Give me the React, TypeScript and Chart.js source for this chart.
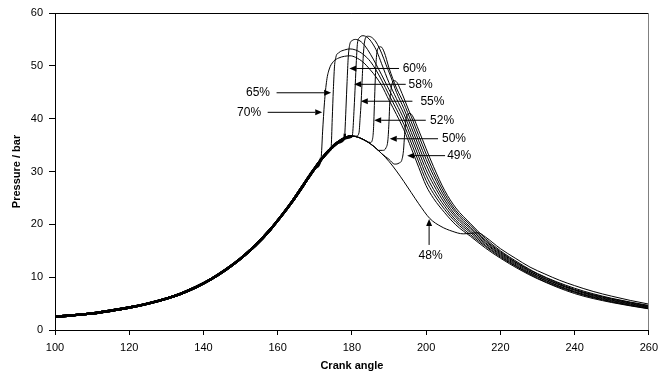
import { useEffect, useRef } from 'react';
import { Chart, registerables } from 'chart.js';

Chart.register(...registerables);

type Pt = [number, number];

// Axis ranges (crank angle in degrees, pressure in bar)
const ANGLE_MIN = 100;
const ANGLE_MAX = 260;
const ANGLE_STEP = 20;
const PRESSURE_MIN = 0;
const PRESSURE_MAX = 60;
const PRESSURE_STEP = 10;

// Shared compression / motored trace, common to every run until it fires
const motoring: Pt[] = [
  [100, 2.5], [105, 2.8], [110, 3.15], [115, 3.65], [120, 4.25], [125, 5.0],
  [130, 5.95], [134, 6.9], [138, 8.1], [142, 9.6], [146, 11.4], [150, 13.5],
  [154, 16.0], [158, 19.0], [161, 21.6], [164, 24.4], [167, 27.5], [170, 30.6],
  [172, 32.5], [174, 34.1], [176, 35.4], [178, 36.3], [180, 36.7],
  [182, 36.4], [184, 35.7], [186, 34.7], [188, 33.4], [190, 31.9], [192, 30.1],
];

// Each run, from the point where it leaves the motored trace
const run70: Pt[] = [
  [171.7, 32.6], [172.1, 37.5], [172.6, 43.0], [173.2, 47.2], [173.9, 49.4], [175, 50.8],
  [176.5, 51.5], [178, 51.8], [179.5, 51.9], [181, 51.6], [183, 50.7], [185, 49.2],
  [186.5, 47.9], [188, 46.3], [190, 43.5], [192, 40.8], [194, 37.9], [196, 34.4],
  [198, 30.8], [200, 27.3], [202, 24.9], [205, 22.2], [208, 19.9], [212, 17.7],
  [216, 15.5], [220, 13.6], [225, 11.5], [230, 9.7], [240, 6.9], [250, 5.2], [260, 4.0],
];
const run65: Pt[] = [
  [174.4, 34.6], [174.7, 40.0], [175.0, 45.5], [175.3, 49.8], [175.7, 51.7], [176.5, 52.5],
  [178, 53.0], [179.5, 53.2], [181, 53.0], [183, 52.2], [185, 50.8], [186.5, 49.2],
  [188, 47.3], [190, 44.5], [192, 41.8], [194, 38.9], [196, 35.4], [198, 31.8],
  [200, 28.3], [202, 25.8], [205, 22.8], [208, 20.4], [212, 18.0], [216, 15.8],
  [220, 13.8], [225, 11.7], [230, 9.8], [240, 7.1], [250, 5.3], [260, 4.05],
];
const run60: Pt[] = [
  [178.1, 37.2], [178.4, 42.0], [178.7, 47.0], [179.0, 51.5], [179.4, 54.0], [180.1, 54.8],
  [181, 55.0], [182.2, 54.7], [183.5, 53.8], [185, 52.2], [186.5, 50.3], [188, 48.3],
  [190, 45.5], [192, 42.8], [194, 39.9], [196, 36.4], [198, 32.8], [200, 29.3],
  [202, 26.6], [205, 23.4], [208, 20.8], [212, 18.4], [216, 16.0], [220, 14.0],
  [225, 11.8], [230, 10.0], [240, 7.2], [250, 5.4], [260, 4.15],
];
const run58: Pt[] = [
  [180.2, 37.2], [180.6, 42.0], [180.9, 46.4], [181.2, 51.0], [181.5, 54.3], [182, 55.3],
  [183, 55.7], [184.3, 55.3], [185.5, 54.3], [186.8, 52.6], [188, 50.4], [190, 46.8],
  [192, 43.8], [194, 40.9], [196, 37.4], [198, 33.8], [200, 30.3], [202, 27.5],
  [205, 24.0], [208, 21.3], [212, 18.7], [216, 16.3], [220, 14.2], [225, 12.0],
  [230, 10.1], [240, 7.3], [250, 5.55], [260, 4.25],
];
const run55: Pt[] = [
  [181.2, 36.7], [181.9, 37.3], [182.2, 40.0], [182.5, 43.3], [182.8, 48.0], [183.1, 52.3],
  [183.5, 54.9], [184.2, 55.6], [185.3, 55.4], [186.5, 54.5], [188, 52.4], [189.2, 50.2],
  [190.5, 47.9], [192, 45.0], [194, 41.9], [196, 38.4], [198, 34.8], [200, 31.3],
  [202, 28.3], [205, 24.6], [208, 21.7], [212, 19.1], [216, 16.5], [220, 14.4],
  [225, 12.2], [230, 10.3], [240, 7.5], [250, 5.65], [260, 4.35],
];
const run52: Pt[] = [
  [185.0, 35.5], [185.6, 36.3], [185.85, 38.5], [186.05, 42.5], [186.3, 47.5], [186.6, 51.6],
  [187.1, 53.4], [187.8, 53.6], [188.7, 52.6], [190, 49.6], [192, 45.8], [194, 42.9],
  [196, 39.4], [198, 35.8], [200, 32.3], [202, 29.2], [205, 25.2], [208, 22.2],
  [212, 19.4], [216, 16.8], [220, 14.6], [225, 12.4], [230, 10.4], [240, 7.6],
  [250, 5.8], [260, 4.45],
];
const run50: Pt[] = [
  [187.2, 34.0], [188.3, 34.0], [189.2, 34.5], [189.7, 36.0], [190.0, 39.5], [190.2, 43.0],
  [190.6, 45.8], [191.3, 47.2], [192.1, 46.9], [193, 45.6], [194, 43.9], [196, 40.4],
  [198, 36.8], [200, 33.3], [202, 30.0], [205, 25.8], [208, 22.6], [212, 19.8],
  [216, 17.0], [220, 14.8], [225, 12.5], [230, 10.6], [240, 7.7], [250, 5.9], [260, 4.55],
];
const run49: Pt[] = [
  [190, 32.3], [191.5, 31.4], [192.7, 31.6], [193.5, 32.3], [193.9, 34.0], [194.2, 37.0],
  [194.5, 39.5], [195.0, 40.8], [195.7, 41.0], [196.5, 40.3], [198, 37.8], [200, 34.3],
  [202, 30.9], [205, 26.4], [208, 23.1], [212, 20.1], [216, 17.3], [220, 15.0],
  [225, 12.7], [230, 10.7], [240, 7.9], [250, 6.0], [260, 4.65],
];
const run48: Pt[] = [
  [194, 28.1], [196, 26.0], [198, 23.9], [201, 21.1], [204, 19.6], [207, 18.7],
  [210, 18.2], [212, 18.3], [214, 18.4], [216, 17.6], [218, 16.5], [220, 15.4],
  [224, 13.6], [228, 11.9], [232, 10.6], [236, 9.4], [240, 8.4], [245, 7.3],
  [250, 6.4], [255, 5.6], [260, 4.9],
];

const runLabels = ['70%', '65%', '60%', '58%', '55%', '52%', '50%', '49%', '48%'];
const runTraces: Pt[][] = [run70, run65, run60, run58, run55, run52, run50, run49, run48];

// Callouts: label, arrow tip and arrow tail (crank angle, bar), label centre
type Callout = { text: string; tip: Pt; tail: Pt; at: Pt };
const callouts: Callout[] = [
  { text: '70%', tip: [172.0, 41.2], tail: [157.3, 41.2], at: [152.3, 41.2] },
  { text: '65%', tip: [174.4, 44.9], tail: [159.7, 44.9], at: [154.7, 44.9] },
  { text: '60%', tip: [179.3, 49.5], tail: [192.7, 49.5], at: [196.9, 49.5] },
  { text: '58%', tip: [180.6, 46.5], tail: [194.5, 46.5], at: [198.5, 46.5] },
  { text: '55%', tip: [182.4, 43.3], tail: [196.3, 43.3], at: [201.7, 43.3] },
  { text: '52%', tip: [186.0, 39.7], tail: [199.9, 39.7], at: [204.3, 39.7] },
  { text: '50%', tip: [190.2, 36.2], tail: [203.2, 36.2], at: [207.5, 36.2] },
  { text: '49%', tip: [194.9, 33.0], tail: [205.1, 33.0], at: [208.9, 33.0] },
  { text: '48%', tip: [200.8, 21.0], tail: [200.8, 16.1], at: [201.2, 14.0] },
];

const FONT = "'Liberation Sans', Arial, sans-serif";

function fullTrace(own: Pt[]) {
  const start = own[0][0];
  return motoring
    .filter((p) => p[0] < start)
    .concat(own)
    .map(([x, y]) => ({ x, y }));
}

const calloutPlugin = {
  id: 'callouts',
  afterDatasetsDraw(chart: any) {
    const { ctx, chartArea: a, scales } = chart;
    const xs = scales.x;
    const ys = scales.y;
    ctx.save();
    // plot frame: top edge dark, right edge grey
    ctx.lineWidth = 1;
    ctx.strokeStyle = '#000';
    ctx.beginPath();
    ctx.moveTo(a.left, Math.round(a.top) + 0.5);
    ctx.lineTo(a.right, Math.round(a.top) + 0.5);
    ctx.stroke();
    ctx.strokeStyle = '#808080';
    ctx.beginPath();
    ctx.moveTo(Math.round(a.right) - 0.5, a.top);
    ctx.lineTo(Math.round(a.right) - 0.5, a.bottom);
    ctx.stroke();

    ctx.fillStyle = '#000';
    ctx.strokeStyle = '#000';
    ctx.font = `12px ${FONT}`;
    ctx.textAlign = 'center';
    ctx.textBaseline = 'middle';
    for (const c of callouts) {
      const tx = xs.getPixelForValue(c.tip[0]);
      const ty = ys.getPixelForValue(c.tip[1]);
      const sx = xs.getPixelForValue(c.tail[0]);
      const sy = ys.getPixelForValue(c.tail[1]);
      const ang = Math.atan2(ty - sy, tx - sx);
      const len = 7;
      const half = 3;
      const bx = tx - Math.cos(ang) * len;
      const by = ty - Math.sin(ang) * len;
      ctx.beginPath();
      ctx.moveTo(sx, sy);
      ctx.lineTo(bx, by);
      ctx.stroke();
      ctx.beginPath();
      ctx.moveTo(tx, ty);
      ctx.lineTo(bx - Math.sin(ang) * half, by + Math.cos(ang) * half);
      ctx.lineTo(bx + Math.sin(ang) * half, by - Math.cos(ang) * half);
      ctx.closePath();
      ctx.fill();
      ctx.fillText(c.text, xs.getPixelForValue(c.at[0]), ys.getPixelForValue(c.at[1]));
    }
    ctx.restore();
  },
};

export default function App() {
  const canvasRef = useRef<HTMLCanvasElement | null>(null);

  useEffect(() => {
    const canvas = canvasRef.current;
    if (!canvas) return;
    const datasets = runTraces.map((own, i) => {
      const thickUntil = Math.min(own[0][0], 180);
      return {
        label: runLabels[i],
        data: fullTrace(own),
        borderColor: '#000',
        backgroundColor: '#000',
        borderWidth: 1,
        pointRadius: 0,
        fill: false,
        cubicInterpolationMode: 'monotone' as const,
        segment: {
          borderWidth: (ctx: any) => (ctx.p1.parsed.x <= thickUntil ? 2.4 : 1),
        },
      };
    });

    const chart = new Chart(canvas, {
      type: 'line',
      data: { datasets },
      plugins: [calloutPlugin],
      options: {
        animation: false,
        responsive: false,
        layout: { padding: { top: 13, right: 14, left: 0, bottom: 0 } },
        plugins: {
          legend: { display: false },
          tooltip: { enabled: false },
        },
        scales: {
          x: {
            type: 'linear',
            min: ANGLE_MIN,
            max: ANGLE_MAX,
            afterFit: (s: any) => {
              s.height = 46;
            },
            ticks: {
              stepSize: ANGLE_STEP,
              padding: 6,
              color: '#000',
              font: { family: FONT, size: 11 },
            },
            grid: {
              display: true,
              drawOnChartArea: false,
              drawTicks: true,
              tickLength: 5,
              color: '#000',
            },
            border: { display: true, color: '#000', width: 1 },
            title: {
              display: true,
              text: 'Crank angle',
              color: '#000',
              font: { family: FONT, size: 11, weight: 'bold' },
              padding: { top: 0, bottom: 3 },
            },
          },
          y: {
            type: 'linear',
            min: PRESSURE_MIN,
            max: PRESSURE_MAX,
            afterFit: (s: any) => {
              s.width = 55;
            },
            ticks: {
              stepSize: PRESSURE_STEP,
              padding: 6,
              color: '#000',
              font: { family: FONT, size: 11 },
            },
            grid: {
              display: true,
              drawOnChartArea: false,
              drawTicks: true,
              tickLength: 6,
              color: '#000',
            },
            border: { display: true, color: '#000', width: 1 },
            title: {
              display: true,
              text: 'Pressure / bar',
              color: '#000',
              font: { family: FONT, size: 11, weight: 'bold' },
              padding: { top: 10, bottom: 0 },
            },
          },
        },
      },
    });
    return () => chart.destroy();
  }, []);

  return (
    <div style={{ position: 'absolute', left: 0, top: 0, width: 664, height: 376, background: '#fff' }}>
      <canvas ref={canvasRef} width={664} height={376} style={{ display: 'block' }} />
    </div>
  );
}
